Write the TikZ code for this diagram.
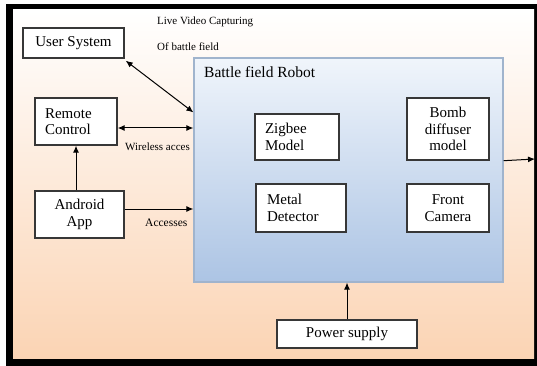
\documentclass[tikz,border=0pt]{standalone}
\usepackage{fontspec}
\setmainfont{Liberation Serif}
\usetikzlibrary{arrows.meta}
\definecolor{peach}{RGB}{251,212,180}
\definecolor{robottop}{RGB}{240,245,251}
\definecolor{robotbot}{RGB}{172,196,228}
\definecolor{robotedge}{RGB}{160,180,205}
\definecolor{boxedge}{RGB}{55,55,55}
\tikzset{
  box/.style={draw=boxedge, line width=1.4pt, fill=white, inner sep=0pt,
              font=\fontsize{15}{16.5}\selectfont, align=center},
  lbox/.style={box, align=left},
  small/.style={font=\fontsize{11}{12}\selectfont, inner sep=0pt, anchor=west},
  tip/.tip={Latex[length=7pt,width=6pt]},
  link/.style={line width=1pt, -tip},
  dlink/.style={line width=1pt, tip-tip}
}
\begin{document}
\begin{tikzpicture}[x=1pt,y=-1pt]
\useasboundingbox (0,0) rectangle (537,366);
% frame and background
\fill[black] (6,4) rectangle (537,366);
\shade[top color=white, bottom color=peach] (13,10) rectangle (534,358);

% captions outside the robot
\node[small] (live) at (157,22) {Live Video Capturing};
\node[small] (field) at (157,47) {Of battle field};
\node[small] (wireless) at (125,147) {Wireless acces};
\node[small, font=\fontsize{11.5}{12}\selectfont] (acc) at (145,223) {Accesses};

% robot enclosure
\node[draw=robotedge, line width=1.2pt, top color=robottop, bottom color=robotbot,
      minimum width=309pt, minimum height=224pt, inner sep=0pt] (robot) at (348.5,170) {};
\node[anchor=west, inner sep=0pt, font=\fontsize{15.5}{17}\selectfont] (title) at (204,72) {Battle field Robot};

% outer blocks
\node[box, minimum width=101pt, minimum height=30pt] (user) at (73.5,43) {User System};
\node[lbox, text width=62pt, minimum height=47pt, inner xsep=10pt] (remote) at (76,121.5) {Remote\\Control};
\node[box, minimum width=89pt, minimum height=47pt] (android) at (79.5,214.5) {Android\\App};
\node[box, minimum width=140pt, minimum height=28pt] (power) at (347,334) {Power supply};

% modules inside the robot
\node[lbox, text width=64pt, minimum height=46pt, inner xsep=10pt] (zigbee) at (297,137) {Zigbee\\Model};
\node[box, minimum width=82pt, minimum height=62pt] (bomb) at (448,129) {Bomb\\diffuser\\model};
\node[lbox, text width=68pt, minimum height=48pt, inner xsep=11pt] (metal) at (301,208) {Metal\\Detector};
\node[box, minimum width=82pt, minimum height=48pt] (camera) at (448,208) {Front\\Camera};

% connectors
\coordinate (out) at (535,159);
\draw[dlink] ([xshift=1pt,yshift=-2pt]user.south east) -- ([yshift=-55pt]robot.north west);
\draw[dlink] ([yshift=-6.5pt]remote.east) -- ([yshift=-6.5pt]robot.west |- remote.east);
\draw[link] (remote.south |- android.north) -- (remote.south);
\draw[link] ([yshift=5.5pt]android.east) -- ([yshift=5.5pt]robot.west |- android.east);
\draw[link] (power.north) -- (power.north |- robot.south);
\draw[link] (bomb.south -| robot.east) -- (out);
\end{tikzpicture}
\end{document}
